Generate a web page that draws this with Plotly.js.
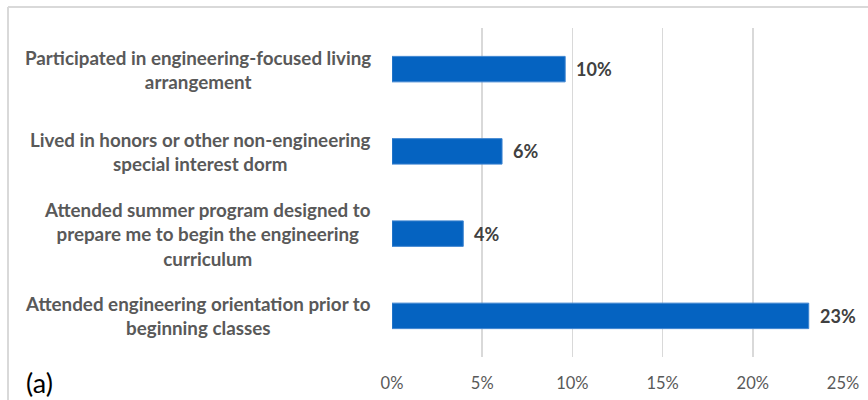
<!DOCTYPE html>
<html>
<head>
<meta charset="utf-8">
<script src="https://cdn.plot.ly/plotly-3.0.1.min.js"></script>
<style>html,body{margin:0;padding:0;background:#fff;}#chart{width:868px;height:400px;}</style>
</head>
<body>
<div id="chart"></div>
<script>
var categories = [
  "Participated in engineering-focused living<br>arrangement",
  "Lived in honors or other non-engineering<br>special interest dorm",
  "Attended summer program designed to<br>prepare me to begin the engineering<br>curriculum",
  "Attended engineering orientation prior to<br>beginning classes"
];
var values = [9.6, 6.1, 3.95, 23.1];
var xTicks = [0, 5, 10, 15, 20, 25];
var xTickLabels = ["0%", "5%", "10%", "15%", "20%", "25%"];
var panelLabel = "(a)";

var FONT = "Lato, 'Open Sans', sans-serif";
var ids = categories.map(function(c, i){ return "c" + i; });

var trace = {
  type: "bar",
  orientation: "h",
  y: ids,
  x: values,
  marker: {color: "#0563c1", line: {color: "#3d84d0", width: 1}},
  hoverinfo: "skip"
};

var annotations = [];
categories.forEach(function(c, i){
  annotations.push({
    xref: "paper", yref: "y", x: 0, y: ids[i],
    xanchor: "right", yanchor: "middle", xshift: -19,
    text: "<b>" + c + "</b>", showarrow: false, align: "center",
    font: {family: FONT, size: 18.8, color: "#595959"}
  });
  annotations.push({
    xref: "x", yref: "y", x: values[i], y: ids[i],
    xanchor: "left", yanchor: "middle", xshift: 9,
    text: "<b>" + Math.round(values[i]) + "%</b>", showarrow: false,
    font: {family: FONT, size: 18, color: "#404040"}
  });
});
annotations.push({
  xref: "paper", yref: "paper", x: -0.815, y: -0.079,
  xanchor: "left", yanchor: "middle", text: panelLabel, showarrow: false,
  font: {family: FONT, size: 27, color: "#000000"}
});

var layout = {
  width: 868, height: 400,
  margin: {l: 392, r: 25, t: 28, b: 43, pad: 0},
  paper_bgcolor: "#ffffff", plot_bgcolor: "#ffffff",
  showlegend: false,
  bargap: 0.69,
  xaxis: {
    range: [0, 25], tickvals: xTicks, ticktext: xTickLabels,
    showgrid: true, gridcolor: "#d9d9d9", gridwidth: 1.5,
    zeroline: false, showline: false, ticks: "",
    ticklabelstandoff: 14,
    tickfont: {family: FONT, size: 16.5, color: "#595959"},
    fixedrange: true
  },
  yaxis: {
    type: "category", autorange: "reversed",
    showticklabels: false, showgrid: false, zeroline: false, showline: false, ticks: "",
    fixedrange: true
  },
  annotations: annotations,
  shapes: [
    {type: "line", xref: "paper", yref: "paper", x0: (8 - 392) / 451, x1: (868 - 392) / 451, y0: (357 - 7) / 329, y1: (357 - 7) / 329, line: {color: "#d9d9d9", width: 2}},
    {type: "line", xref: "paper", yref: "paper", x0: (8 - 392) / 451, x1: (8 - 392) / 451, y0: (357 - 7) / 329, y1: (357 - 400) / 329, line: {color: "#d9d9d9", width: 2}}
  ]
};

Plotly.newPlot("chart", [trace], layout, {displayModeBar: false, staticPlot: true});
</script>
</body>
</html>
